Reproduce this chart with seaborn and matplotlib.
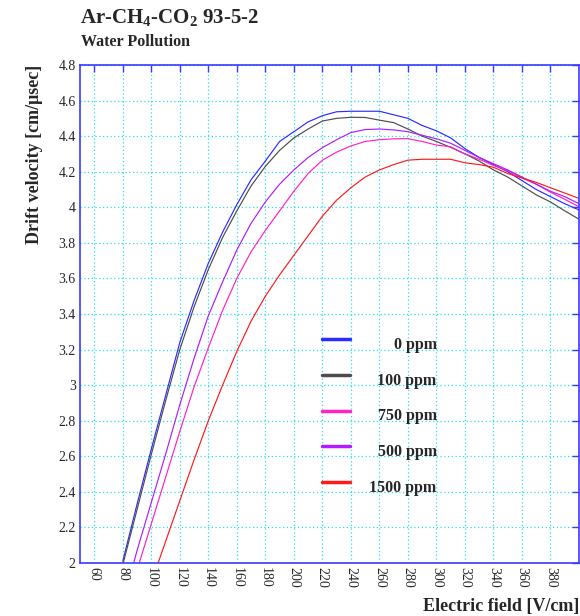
import numpy as np
import pandas as pd
import matplotlib
matplotlib.use("Agg")
import matplotlib.pyplot as plt
from matplotlib.lines import Line2D
import seaborn as sns

# ---- data ----
field = [80, 90, 100, 110, 120, 130, 140, 150, 160, 170, 180, 190, 200, 210, 220,
         230, 240, 250, 260, 270, 280, 290, 300, 310, 320, 330, 340, 350, 360, 370,
         380, 390, 400]
v_0 = [2.01, 2.33, 2.64, 2.94, 3.24, 3.475, 3.685, 3.86, 4.015, 4.155, 4.26, 4.37, 4.425,
       4.48, 4.515, 4.537, 4.54, 4.54, 4.54, 4.52, 4.50, 4.46, 4.43, 4.39, 4.33, 4.28,
       4.24, 4.20, 4.15, 4.10, 4.06, 4.02, 3.985]
v_100 = [1.99, 2.30, 2.61, 2.91, 3.20, 3.44, 3.65, 3.83, 3.98, 4.12, 4.23, 4.32, 4.39,
         4.44, 4.485, 4.50, 4.506, 4.505, 4.49, 4.476, 4.44, 4.40, 4.37, 4.337, 4.30,
         4.26, 4.21, 4.17, 4.12, 4.07, 4.03, 3.98, 3.933]
v_500 = [1.77, 2.07, 2.34, 2.61, 2.89, 3.15, 3.39, 3.58, 3.76, 3.91, 4.03, 4.13, 4.21,
         4.28, 4.335, 4.38, 4.42, 4.437, 4.44, 4.435, 4.425, 4.405, 4.385, 4.36, 4.32,
         4.28, 4.245, 4.21, 4.17, 4.13, 4.09, 4.06, 4.02]
v_750 = [1.62, 1.96, 2.22, 2.48, 2.74, 2.99, 3.21, 3.42, 3.60, 3.75, 3.87, 3.98, 4.09,
         4.19, 4.265, 4.31, 4.345, 4.37, 4.38, 4.385, 4.386, 4.37, 4.35, 4.34, 4.30, 4.27,
         4.235, 4.205, 4.165, 4.13, 4.085, 4.045, 4.003]
v_1500 = [1.40, 1.65, 1.89, 2.12, 2.35, 2.58, 2.80, 3.00, 3.19, 3.36, 3.50, 3.62, 3.73,
          3.84, 3.95, 4.04, 4.11, 4.17, 4.21, 4.24, 4.265, 4.27, 4.27, 4.27, 4.25, 4.24,
          4.225, 4.19, 4.165, 4.14, 4.11, 4.08, 4.05]

series_labels = ["0 ppm", "100 ppm", "750 ppm", "500 ppm", "1500 ppm"]
series_values = [v_0, v_100, v_750, v_500, v_1500]
series_colors = ["#2b2bff", "#4d4d4d", "#ff22c8", "#b01cff", "#ff1a1a"]
x_ticks = list(range(60, 400, 20))
y_ticks = [2.0, 2.2, 2.4, 2.6, 2.8, 3.0, 3.2, 3.4, 3.6, 3.8, 4.0, 4.2, 4.4, 4.6, 4.8]

rows = []
for lab, vals in zip(series_labels, series_values):
    for f, v in zip(field, vals):
        rows.append({"field": f, "v": v, "conc": lab})
df = pd.DataFrame(rows)

sns.set_style("white")
plt.rcParams["font.family"] = ["Liberation Serif", "DejaVu Serif"]
plt.rcParams["mathtext.fontset"] = "custom"
plt.rcParams["mathtext.rm"] = "Liberation Serif"
plt.rcParams["mathtext.bf"] = "Liberation Serif:bold"

fig = plt.figure(figsize=(5.8, 6.16), dpi=100)
ax = fig.add_axes([80 / 580, 1 - 563 / 616, 499 / 580, 498 / 616])

palette = dict(zip(series_labels, series_colors))
sns.lineplot(data=df, x="field", y="v", hue="conc", palette=palette, ax=ax,
             linewidth=0.85, legend=False, sort=False)

frame_c = "#3a3aff"
grid_c = "#22e0f0"
ax.set_xlim(50, 400)
ax.set_ylim(2, 4.8)
ax.set_xticks(x_ticks)
ax.set_yticks(y_ticks)
ax.set_xticklabels([str(t) for t in x_ticks], rotation=-90, fontsize=10)
ax.set_yticklabels([f"{t:g}" for t in y_ticks], fontsize=10)
ax.grid(True, color=grid_c, linestyle=(0, (1, 2)), linewidth=0.9)
ax.set_axisbelow(True)
for s in ax.spines.values():
    s.set_color(frame_c)
    s.set_linewidth(1.2)
ax.tick_params(axis="both", direction="in", length=5, color=frame_c, width=1.0,
               top=True, right=True, pad=3)

ax.set_xlabel("Electric field [V/cm]", fontsize=13, fontweight="bold", loc="right")
ax.xaxis.set_label_coords(1.0, -0.070)
ax.set_ylabel("Drift velocity [cm/\u03bcsec]", fontsize=13, fontweight="bold", loc="top")
ax.yaxis.set_label_coords(-0.074, 1.0)

fig.text(80 / 580, 1 - 23 / 616, r"Ar-CH$_\mathbf{4}$-CO$_\mathbf{2}$ 93-5-2",
         fontsize=15, fontweight="bold", ha="left", va="baseline")
fig.text(81 / 580, 1 - 46 / 616, "Water Pollution", fontsize=11.5,
         fontweight="bold", ha="left", va="baseline")

handles = [Line2D([], [], color=c, linewidth=2.5) for c in series_colors]
leg = ax.legend(handles, series_labels, loc="upper left",
                bbox_to_anchor=((322 - 80) / 499, 1 - (333 - 65) / 498),
                frameon=False, borderpad=0, borderaxespad=0, handlelength=1.77,
                handletextpad=1.2, labelspacing=1.23,
                prop={"family": "Liberation Serif", "weight": "bold", "size": 11.5})
fig.canvas.draw()
renderer = fig.canvas.get_renderer()
widths = [t.get_window_extent(renderer).width for t in leg.get_texts()]
maxw = max(widths)
for t, w in zip(leg.get_texts(), widths):
    t.set_position((maxw - w, -4))

fig.savefig("out.png", dpi=100)
